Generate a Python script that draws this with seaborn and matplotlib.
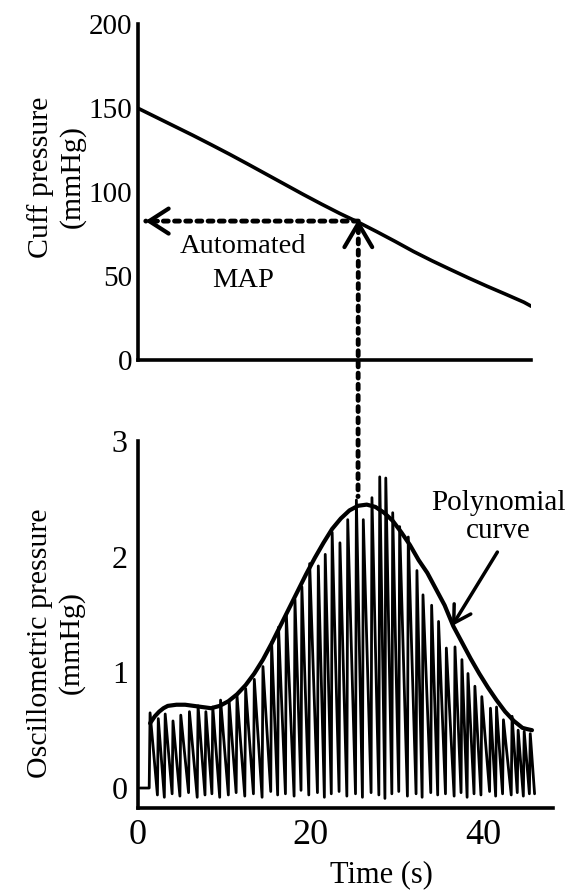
import pandas as pd
import matplotlib
matplotlib.use("Agg")
import matplotlib.pyplot as plt
from matplotlib.patches import ConnectionPatch
import seaborn as sns

# Cuff pressure (mmHg)
cuff_time = [0, 2, 4, 6, 8, 10, 12, 14, 16, 18, 20, 22, 24,
             26, 28, 30, 32, 34, 36, 38, 40, 42, 42.8]
cuff_pressure = [150, 144.6, 139.2, 133.8, 128.2, 122.5, 116.6, 110.6, 104.6, 98.6, 92.8, 87.2, 82.0,
                 76.4, 70.6, 64.6, 59.1, 53.9, 48.8, 43.9, 39.2, 34.4, 32]

# Oscillometric pulses: beat time (s), peak and trough (mmHg)
beat_time = [1.45, 2.4, 3.2, 4.1, 5.0, 6.0, 7.0, 7.9, 8.7, 9.6,
             10.6, 11.5, 12.5, 13.5, 14.5, 15.5, 16.3, 17.2, 18.2, 19.0,
             19.9, 20.9, 21.7, 22.5, 23.4, 24.3, 25.3, 26.1, 27.1, 28.0,
             28.7, 29.5, 30.3, 31.3, 32.3, 33.0, 34.0, 34.8, 35.7, 36.7,
             37.5, 38.2, 39.0, 39.8, 40.8, 41.5, 42.3, 43.3, 44.0, 44.7, 45.4]
beat_peak = [0.65, 0.60, 0.64, 0.58, 0.63, 0.66, 0.71, 0.66, 0.70, 0.76,
             0.74, 0.80, 0.86, 0.94, 1.05, 1.26, 1.39, 1.51, 1.63, 1.74,
             1.94, 1.92, 2.02, 2.21, 2.12, 2.32, 2.49, 2.32, 2.51, 2.69,
             2.68, 2.38, 2.26, 2.17, 1.88, 1.67, 1.58, 1.44, 1.21, 1.22,
             1.11, 0.99, 0.88, 0.79, 0.69, 0.70, 0.59, 0.62, 0.50, 0.49, 0.47]
beat_trough = [0.00, -0.06, -0.08, -0.05, -0.07, -0.04, -0.08, -0.06, -0.05, -0.08,
               -0.06, -0.04, -0.07, -0.05, -0.08, -0.03, -0.06, -0.05, -0.07, -0.02,
               -0.06, -0.04, -0.08, -0.05, -0.03, -0.07, -0.05, -0.08, -0.04, -0.06,
               -0.09, -0.05, -0.03, -0.07, -0.05, -0.08, -0.04, -0.06, -0.05, -0.07,
               -0.04, -0.08, -0.05, -0.06, -0.03, -0.07, -0.05, -0.06, -0.04, -0.07, -0.05]

# Polynomial envelope drawn over the pulses
poly_time = [1.45, 2.0, 2.5, 3.0, 3.5, 4.5, 5.5, 6.5, 7.5, 8.5, 9.5, 10.5, 11.5,
             12.5, 13.5, 14.5, 15.5, 16.5, 17.5, 18.5, 19.5, 20.5, 21.5, 22.5,
             23.5, 24.5, 25.5, 26.5, 27.5, 28.5, 29.5, 30.5, 31.5, 32.5, 33.5,
             34.5, 35.5, 36.5, 37.5, 38.5, 39.5, 40.5, 41.5, 42.5, 43.5, 44.5,
             45.0, 45.6]
poly_value = [0.56, 0.62, 0.66, 0.69, 0.71, 0.72, 0.72, 0.71, 0.70, 0.69, 0.71, 0.75, 0.81,
              0.89, 0.99, 1.11, 1.25, 1.40, 1.55, 1.70, 1.85, 1.99, 2.12, 2.24,
              2.33, 2.40, 2.44, 2.45, 2.43, 2.38, 2.31, 2.21, 2.10, 1.97, 1.86,
              1.72, 1.58, 1.40, 1.26, 1.12, 0.99, 0.87, 0.76, 0.66, 0.58, 0.52,
              0.51, 0.50]

map_time = 24.0
map_value = 82.7

# build the pulse trace: baseline, then trough -> peak for every beat
osc_t = [0.3]
osc_v = [0.0]
for t, pk, tr in zip(beat_time, beat_peak, beat_trough):
    osc_t += [t - 0.1, t]
    osc_v += [tr, pk]
osc_t.append(beat_time[-1] + 0.5)
osc_v.append(beat_trough[-1])
osc = pd.DataFrame({"time": osc_t, "value": osc_v})
cuff = pd.DataFrame({"time": cuff_time, "pressure": cuff_pressure})
poly = pd.DataFrame({"time": poly_time, "value": poly_value})

sns.set_theme(style="white")
plt.rcParams["font.family"] = ["Liberation Serif", "DejaVu Serif"]
plt.rcParams["text.color"] = "black"
plt.rcParams["axes.labelcolor"] = "black"
plt.rcParams["xtick.color"] = "black"
plt.rcParams["ytick.color"] = "black"

fig = plt.figure(figsize=(5.73, 8.9), dpi=100)
ax1 = fig.add_axes([0.240, 0.5955, 0.6867, 0.3775])
ax2 = fig.add_axes([0.240, 0.0921, 0.7251, 0.4124])

# upper panel: cuff pressure
sns.lineplot(data=cuff, x="time", y="pressure", ax=ax1, color="black", lw=2.6)
ax1.set_xlim(0, 42.77)
ax1.set_ylim(0, 200)
ax1.set_xticks([20, 40])
ax1.set_xticklabels([])
ax1.set_yticks([0, 50, 100, 150, 200])
ax1.tick_params(axis="y", labelsize=21, direction="out", length=2, width=2, pad=2)
ax1.tick_params(axis="x", direction="in", length=3, width=2)
ax1.set_xlabel("")
ax1.set_ylabel("Cuff pressure\n(mmHg)", fontsize=21.5, ha="center", va="center",
               multialignment="center", linespacing=1.25)
ax1.yaxis.set_label_coords(-0.207, 0.545)

# lower panel: oscillometric pulses + polynomial curve
sns.lineplot(data=osc, x="time", y="value", ax=ax2, color="black", lw=2.0,
             sort=False, estimator=None)
sns.lineplot(data=poly, x="time", y="value", ax=ax2, color="black", lw=3.0)
ax2.set_xlim(0, 48.03)
ax2.set_ylim(-0.173, 3.0)
ax2.set_xticks([0, 20, 40])
ax2.set_yticks([0, 1, 2, 3])
ax2.tick_params(axis="x", labelsize=26, direction="in", length=3, width=2, pad=8)
ax2.tick_params(axis="y", labelsize=23, direction="in", length=0, pad=7)
ax2.set_xlabel("Time (s)", fontsize=22)
ax2.xaxis.set_label_coords(0.586, -0.142)
ax2.set_ylabel("Oscillometric pressure\n(mmHg)", fontsize=21.5, ha="center", va="center",
               multialignment="center", linespacing=1.25)
ax2.yaxis.set_label_coords(-0.196, 0.45)

for ax in (ax1, ax2):
    for side in ("top", "right"):
        ax.spines[side].set_visible(False)
    for side in ("left", "bottom"):
        ax.spines[side].set_linewidth(2.6)
        ax.spines[side].set_color("black")
    ax.grid(False)

dots = (0, (1.0, 1.3))

# automated MAP: dotted arrow back to the pressure axis
ax1.annotate("", xy=(0.9, map_value), xytext=(map_time, map_value),
             arrowprops=dict(arrowstyle="-", lw=3.5, linestyle=dots, color="black",
                             shrinkA=0, shrinkB=0))
ax1.annotate("", xy=(0.85, map_value), xytext=(2.2, map_value),
             arrowprops=dict(arrowstyle="->,head_length=0.7,head_width=0.45", lw=3,
                             color="black", shrinkA=0, shrinkB=0, mutation_scale=20))
ax1.annotate("", xy=(map_time, map_value + 1), xytext=(map_time, map_value - 5),
             arrowprops=dict(arrowstyle="->,head_length=0.85,head_width=0.5", lw=3,
                             color="black", shrinkA=0, shrinkB=0, mutation_scale=20))
ax1.text(11.5, 57.5, "Automated\nMAP", ha="center", va="center", fontsize=20.5,
         linespacing=1.45)

# dotted line linking the envelope peak to the cuff pressure
con = ConnectionPatch(xyA=(map_time, map_value - 4), coordsA=ax1.transData,
                      xyB=(25.49, 2.52), coordsB=ax2.transData,
                      color="black", lw=3.5, linestyle=dots)
fig.add_artist(con)

ax2.text(41.7, 2.34, "Polynomial\ncurve", ha="center", va="center", fontsize=21,
         linespacing=1.1)
ax2.annotate("", xy=(36.35, 1.40), xytext=(41.6, 2.04),
             arrowprops=dict(arrowstyle="->,head_length=0.6,head_width=0.35", lw=2.5,
                             color="black", shrinkA=0, shrinkB=0, mutation_scale=20))

fig.savefig("out.png", dpi=100)
